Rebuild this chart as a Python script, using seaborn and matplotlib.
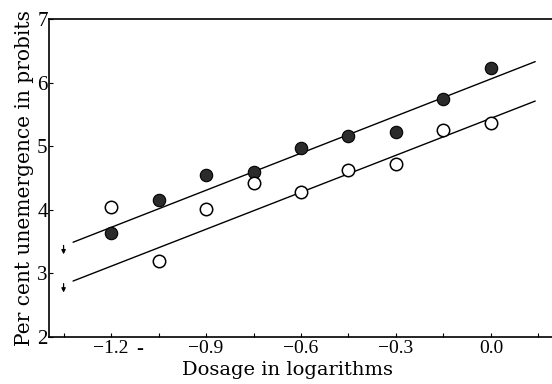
import matplotlib
matplotlib.use("Agg")
import matplotlib.pyplot as plt
import seaborn as sns
import pandas as pd

# Data
dose = [-1.2, -1.05, -0.9, -0.75, -0.6, -0.45, -0.3, -0.15, 0.0]
filled_probit = [3.64, 4.15, 4.54, 4.59, 4.97, 5.16, 5.22, 5.74, 6.23]
open_probit = [4.05, 3.20, 4.01, 4.42, 4.28, 4.63, 4.72, 5.25, 5.36]

# Fitted (parallel) regression lines: end points
line_x = [-1.32, 0.14]
upper_line_y = [3.49, 6.33]
lower_line_y = [2.88, 5.71]

# "less than" arrows at the lowest dose
arrow_x = [-1.35, -1.35]
arrow_y = [3.37, 2.77]

x_ticks = [-1.35, -1.2, -1.05, -0.9, -0.75, -0.6, -0.45, -0.3, -0.15, 0.0, 0.15]
x_tick_labels = ["", "−1.2", "", "−0.9", "", "−0.6", "", "−0.3", "", "0.0", ""]
y_ticks = [2, 3, 4, 5, 6, 7]

sns.set_style("ticks")
plt.rcParams["font.family"] = ["Liberation Serif", "DejaVu Serif"]
plt.rcParams["text.color"] = "black"
plt.rcParams["axes.labelcolor"] = "black"
plt.rcParams["xtick.color"] = "black"
plt.rcParams["ytick.color"] = "black"

fig = plt.figure(figsize=(5.52, 3.84), dpi=100)
ax = fig.add_axes([0.0888, 0.1224, 0.9112, 0.8281])

df_f = pd.DataFrame({"x": dose, "y": filled_probit})
df_o = pd.DataFrame({"x": dose, "y": open_probit})
df_up = pd.DataFrame({"x": line_x, "y": upper_line_y})
df_lo = pd.DataFrame({"x": line_x, "y": lower_line_y})

sns.lineplot(data=df_up, x="x", y="y", ax=ax, color="black", linewidth=1.0)
sns.lineplot(data=df_lo, x="x", y="y", ax=ax, color="black", linewidth=1.0)
sns.scatterplot(data=df_f, x="x", y="y", ax=ax, s=80, color="#2b2b2b",
                edgecolor="black", linewidth=0.8, zorder=3)
sns.scatterplot(data=df_o, x="x", y="y", ax=ax, s=80, color="white",
                edgecolor="black", linewidth=1.1, zorder=3)

for ax_x, ax_y in zip(arrow_x, arrow_y):
    ax.annotate("", xy=(ax_x, ax_y - 0.07), xytext=(ax_x, ax_y + 0.07),
                arrowprops=dict(arrowstyle="-|>", color="black", lw=0.9,
                                mutation_scale=6, shrinkA=0, shrinkB=0))

ax.set_xlim(-1.396, 0.193)
ax.set_ylim(2, 7)
ax.set_xticks(x_ticks)
ax.set_xticklabels(x_tick_labels)
ax.set_yticks(y_ticks)
ax.set_yticklabels([str(v) for v in y_ticks])
ax.tick_params(axis="both", direction="in", length=3, width=0.8, pad=2,
               colors="black")
ax.tick_params(axis="x", labelsize=14)
ax.tick_params(axis="y", labelsize=15, pad=1)

ax.text(-1.11, -0.038, "-", transform=ax.get_xaxis_transform(), ha="center",
        va="center", fontsize=15, fontweight="bold", color="black")

for side in ["left", "bottom", "top"]:
    ax.spines[side].set_linewidth(1.2)
    ax.spines[side].set_color("black")
ax.spines["right"].set_visible(False)

ax.set_xlabel("Dosage in logarithms", fontsize=14, labelpad=4,
              family=["DejaVu Serif"], color="black")
ax.set_ylabel("Per cent unemergence in probits", fontsize=14.5, labelpad=2,
              family=["DejaVu Serif"], color="black")
ax.xaxis.set_label_coords(0.475, -0.075)

fig.savefig("out.png", dpi=100)
